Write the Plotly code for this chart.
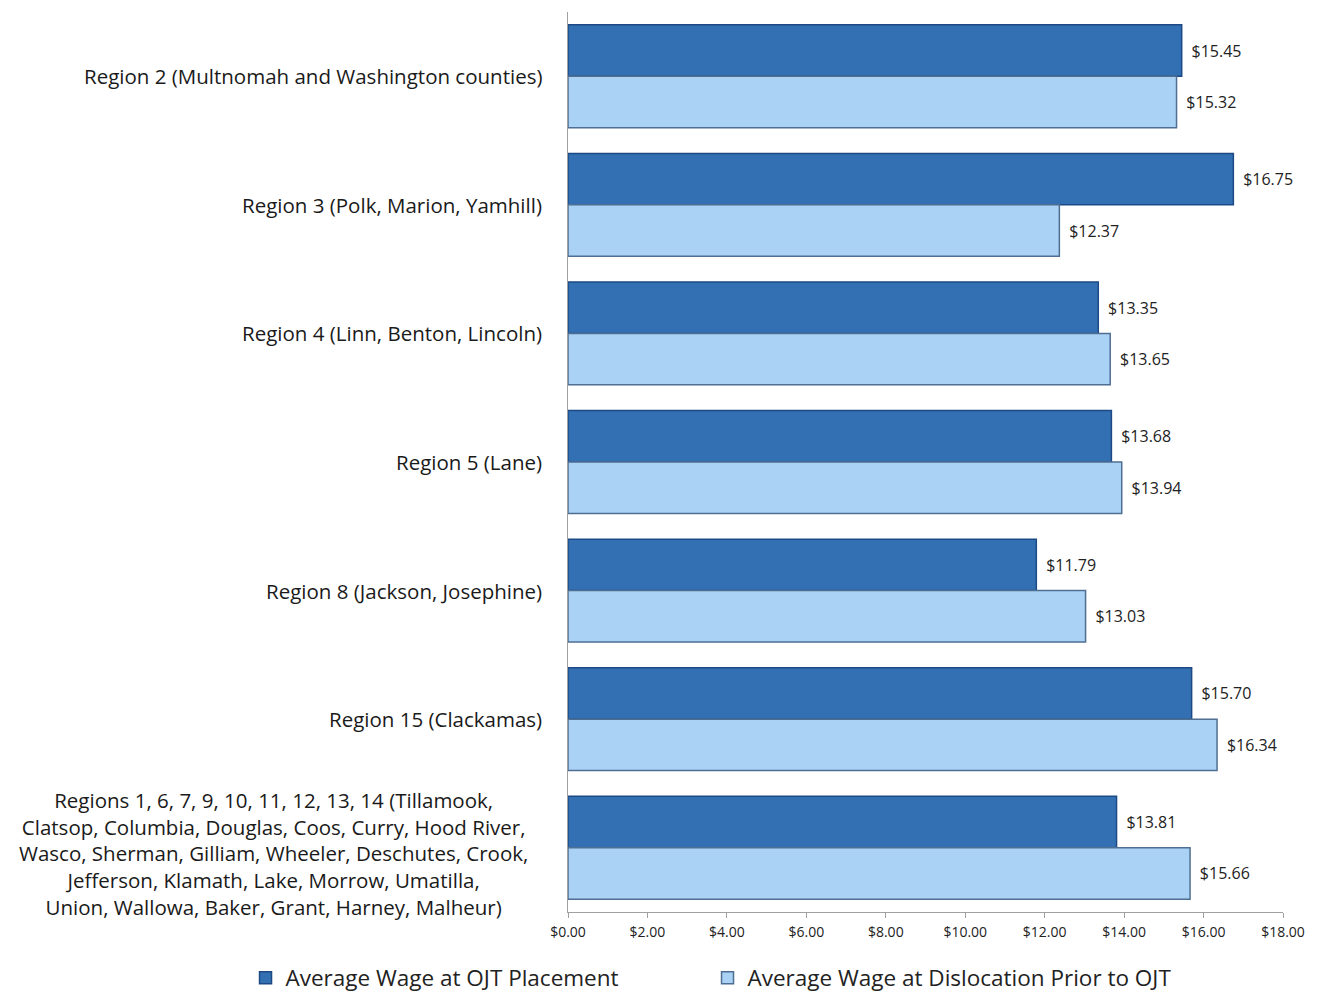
import plotly.graph_objects as go

categories = [
    "Region 2 (Multnomah and Washington counties)",
    "Region 3 (Polk, Marion, Yamhill)",
    "Region 4 (Linn, Benton, Lincoln)",
    "Region 5 (Lane)",
    "Region 8 (Jackson, Josephine)",
    "Region 15 (Clackamas)",
    "Regions 1, 6, 7, 9, 10, 11, 12, 13, 14 (Tillamook,<br>Clatsop, Columbia, Douglas, Coos, Curry, Hood River,<br>Wasco, Sherman, Gilliam, Wheeler, Deschutes, Crook,<br>Jefferson, Klamath, Lake, Morrow, Umatilla,<br>Union, Wallowa, Baker, Grant, Harney, Malheur)",
]
ojt_wage = [15.45, 16.75, 13.35, 13.68, 11.79, 15.70, 13.81]
dislocation_wage = [15.32, 12.37, 13.65, 13.94, 13.03, 16.34, 15.66]
tick_vals = [0, 2, 4, 6, 8, 10, 12, 14, 16, 18]
tick_text = ["$%.2f" % v for v in tick_vals]

FONT = "Open Sans"
PAD = "\u00a0\u2009"

fig = go.Figure()
fig.add_trace(go.Bar(
    y=categories, x=ojt_wage, orientation="h",
    name="Average Wage at OJT Placement",
    marker=dict(color="#3270B3", line=dict(color="#1D4A85", width=1.5)),
    text=[PAD + "$%.2f" % v for v in ojt_wage], textposition="outside",
    textfont=dict(size=16, color="#222222", family=FONT),
    cliponaxis=False, legend="legend",
))
fig.add_trace(go.Bar(
    y=categories, x=dislocation_wage, orientation="h",
    name="Average Wage at Dislocation Prior to OJT",
    marker=dict(color="#A9D2F5", line=dict(color="#4F6F92", width=1.5)),
    text=[PAD + "$%.2f" % v for v in dislocation_wage], textposition="outside",
    textfont=dict(size=16, color="#222222", family=FONT),
    cliponaxis=False, legend="legend2",
))

for c in categories:
    multi = "<br>" in c
    fig.add_annotation(
        x=0, xref="paper", y=c, yref="y", xanchor="right",
        xshift=-38 if multi else -24, yshift=-6 if multi else 0,
        text=c, showarrow=False, align="center",
        font=dict(size=20.5, color="#1a1a1a", family=FONT),
    )

legend_common = dict(
    orientation="h", xref="container", yref="container",
    xanchor="left", y=0.02, yanchor="middle",
    font=dict(size=22.5, family=FONT, color="#222222"),
    itemwidth=30,
)

fig.update_layout(
    width=1320, height=998,
    margin=dict(l=568, r=37, t=12, b=86, autoexpand=False),
    barmode="group", bargap=0.2, bargroupgap=0.0,
    plot_bgcolor="white", paper_bgcolor="white",
    font=dict(family=FONT, color="#222222"),
    legend=dict(x=0.186, **legend_common),
    legend2=dict(x=0.536, **legend_common),
    showlegend=True,
)
fig.update_xaxes(
    range=[0, 18], tickvals=tick_vals, ticktext=tick_text,
    showgrid=False, showline=True, linecolor="#A0A0A0", linewidth=1,
    ticks="outside", ticklen=5, tickcolor="#A0A0A0",
    tickfont=dict(size=14, family=FONT, color="#222222"),
    ticklabelstandoff=2,
    zeroline=False,
)
fig.update_yaxes(
    autorange="reversed", showticklabels=False, showgrid=False,
    showline=True, linecolor="#A0A0A0", linewidth=1,
    ticks="",
)

fig.write_html("out.html")
